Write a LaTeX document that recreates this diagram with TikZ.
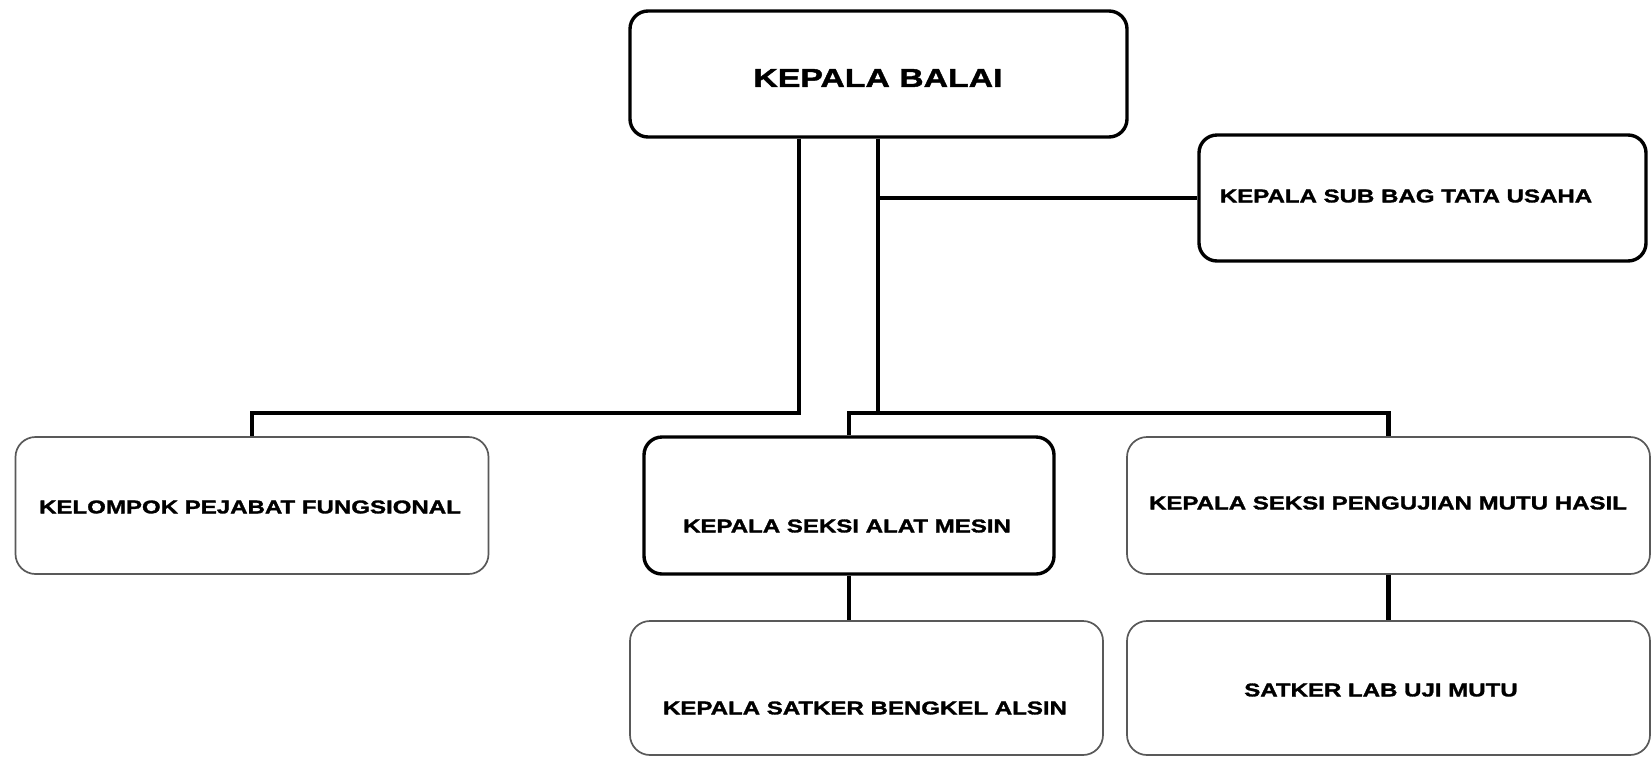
\documentclass[tikz,border=0pt]{standalone}
\usepackage{fontspec}
\newfontfamily\orgfont{Liberation Sans}[FakeStretch=1.3,BoldFeatures={FakeBold=1.6}]
\begin{document}
\begin{tikzpicture}[x=1pt,y=-1pt,
  thickbox/.style={draw=black,line width=3.4pt,rounded corners=18pt,fill=white,inner sep=0pt},
  thinbox/.style={draw=black!65,line width=1.7pt,rounded corners=20pt,fill=white,inner sep=0pt},
  lbl/.style={inner sep=0pt,font=\orgfont\bfseries\fontsize{18.5}{20}\selectfont},
  biglbl/.style={inner sep=0pt,font=\orgfont\bfseries\fontsize{26}{28}\selectfont},
  conn/.style={draw=black,line width=4.2pt}]
\useasboundingbox[fill=white] (0,0) rectangle (1652,756);
% boxes
\node[thickbox,minimum width=497pt,minimum height=126pt] (kb) at (878.5,74) {};
\node[thickbox,minimum width=447pt,minimum height=126pt] (sub) at (1422.5,198) {};
\node[thinbox,minimum width=473pt,minimum height=137pt] (kpf) at (252,505.5) {};
\node[thickbox,minimum width=410pt,minimum height=137pt] (ksam) at (849,505.5) {};
\node[thinbox,minimum width=523pt,minimum height=137pt] (kspmh) at (1388.5,505.5) {};
\node[thinbox,minimum width=473pt,minimum height=134pt] (ksba) at (866.5,688) {};
\node[thinbox,minimum width=523pt,minimum height=134pt] (slum) at (1388.5,688) {};
% texts
\node[biglbl] (tkb) at (878,78) {KEPALA BALAI};
\node[lbl] (tsub) at (1406,196) {KEPALA SUB BAG TATA USAHA};
\node[lbl] (tkpf) at (250,507) {KELOMPOK PEJABAT FUNGSIONAL};
\node[lbl] (tksam) at (847,526) {KEPALA SEKSI ALAT MESIN};
\node[lbl] (tkspmh) at (1388,503) {KEPALA SEKSI PENGUJIAN MUTU HASIL};
\node[lbl] (tksba) at (865,708) {KEPALA SATKER BENGKEL ALSIN};
\node[lbl] (tslum) at (1381,690) {SATKER LAB UJI MUTU};
% junctions
\coordinate (j1) at (799,413);
\coordinate (j2) at (878,413);
% connectors
\draw[conn] (kb.south -| j1) -- (j1) -| (kpf.north);
\draw[conn] (kb.south -| j2) -- (j2);
\draw[conn] (ksam.north) -- (ksam.north |- j2) -- (kspmh.north |- j2) -- (kspmh.north);
\draw[conn] (sub.west -| j2) -- (sub.west);
\draw[conn] (ksam.south) -- (ksam.south |- ksba.north);
\draw[conn] (kspmh.south) -- (slum.north);
\end{tikzpicture}
\end{document}
